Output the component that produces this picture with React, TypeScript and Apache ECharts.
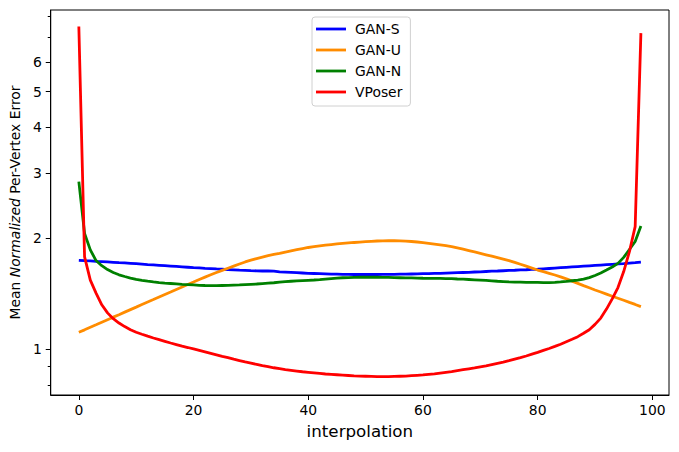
import React, { useEffect, useRef } from "react";
import * as echarts from "echarts";

const xValues: number[] = Array.from({ length: 99 }, (_, i) => i);

const ganS: number[] = [
  1.743, 1.739, 1.736, 1.732, 1.729, 1.725, 1.721, 1.717, 1.714, 1.710,
  1.706, 1.702, 1.697, 1.693, 1.689, 1.685, 1.681, 1.677, 1.673, 1.669,
  1.665, 1.662, 1.658, 1.655, 1.651, 1.648, 1.645, 1.642, 1.639, 1.637,
  1.634, 1.632, 1.630, 1.630, 1.629, 1.622, 1.619, 1.616, 1.613, 1.610,
  1.607, 1.605, 1.603, 1.601, 1.599, 1.598, 1.597, 1.596, 1.595, 1.595,
  1.595, 1.595, 1.595, 1.596, 1.596, 1.597, 1.598, 1.599, 1.600, 1.601,
  1.603, 1.604, 1.606, 1.607, 1.609, 1.611, 1.613, 1.615, 1.617, 1.620,
  1.622, 1.625, 1.628, 1.630, 1.633, 1.636, 1.638, 1.641, 1.643, 1.646,
  1.648, 1.652, 1.656, 1.660, 1.664, 1.668, 1.672, 1.676, 1.680, 1.684,
  1.688, 1.692, 1.696, 1.700, 1.704, 1.708, 1.713, 1.717, 1.722,
];

const ganU: number[] = [
  1.112, 1.129, 1.147, 1.165, 1.184, 1.203, 1.222, 1.241, 1.261, 1.281,
  1.301, 1.322, 1.343, 1.364, 1.386, 1.408, 1.430, 1.453, 1.476, 1.499,
  1.522, 1.546, 1.569, 1.592, 1.615, 1.637, 1.659, 1.681, 1.703, 1.725,
  1.745, 1.762, 1.778, 1.794, 1.808, 1.820, 1.835, 1.849, 1.863, 1.876,
  1.888, 1.897, 1.906, 1.915, 1.923, 1.930, 1.936, 1.942, 1.948, 1.953,
  1.958, 1.962, 1.966, 1.968, 1.969, 1.969, 1.967, 1.964, 1.960, 1.954,
  1.947, 1.938, 1.929, 1.919, 1.909, 1.898, 1.883, 1.868, 1.852, 1.836,
  1.820, 1.804, 1.788, 1.772, 1.756, 1.740, 1.720, 1.700, 1.680, 1.660,
  1.640, 1.624, 1.607, 1.590, 1.572, 1.552, 1.530, 1.509, 1.488, 1.468,
  1.448, 1.430, 1.411, 1.392, 1.375, 1.358, 1.340, 1.323, 1.305,
];

const ganN: number[] = [
  2.850, 2.060, 1.860, 1.740, 1.685, 1.645, 1.615, 1.592, 1.575, 1.560,
  1.547, 1.538, 1.530, 1.523, 1.517, 1.512, 1.508, 1.504, 1.500, 1.497,
  1.494, 1.491, 1.489, 1.488, 1.488, 1.489, 1.490, 1.492, 1.494, 1.497,
  1.500, 1.503, 1.507, 1.511, 1.515, 1.520, 1.525, 1.529, 1.532, 1.535,
  1.538, 1.541, 1.545, 1.550, 1.555, 1.560, 1.563, 1.565, 1.567, 1.568,
  1.568, 1.568, 1.568, 1.567, 1.566, 1.564, 1.563, 1.562, 1.561, 1.560,
  1.558, 1.557, 1.557, 1.556, 1.555, 1.554, 1.551, 1.549, 1.546, 1.543,
  1.540, 1.537, 1.533, 1.529, 1.526, 1.523, 1.521, 1.520, 1.519, 1.519,
  1.518, 1.517, 1.517, 1.519, 1.523, 1.528, 1.534, 1.540, 1.550, 1.564,
  1.585, 1.610, 1.640, 1.672, 1.710, 1.775, 1.865, 1.960, 2.160,
];

const vPoser: number[] = [
  7.500, 1.780, 1.540, 1.420, 1.320, 1.255, 1.210, 1.178, 1.152, 1.130,
  1.112, 1.098, 1.085, 1.073, 1.062, 1.051, 1.040, 1.030, 1.020, 1.011,
  1.002, 0.993, 0.984, 0.975, 0.966, 0.957, 0.949, 0.940, 0.932, 0.924,
  0.917, 0.910, 0.903, 0.897, 0.891, 0.886, 0.881, 0.877, 0.873, 0.869,
  0.866, 0.863, 0.860, 0.857, 0.855, 0.853, 0.851, 0.849, 0.847, 0.846,
  0.845, 0.844, 0.843, 0.843, 0.843, 0.844, 0.845, 0.846, 0.848, 0.850,
  0.852, 0.855, 0.858, 0.862, 0.866, 0.870, 0.875, 0.880, 0.885, 0.890,
  0.896, 0.902, 0.909, 0.916, 0.923, 0.931, 0.940, 0.949, 0.959, 0.970,
  0.981, 0.993, 1.005, 1.018, 1.032, 1.048, 1.064, 1.082, 1.105, 1.130,
  1.168, 1.215, 1.285, 1.370, 1.470, 1.625, 1.840, 2.150, 7.200,
];

const seriesNames: string[] = ["GAN-S", "GAN-U", "GAN-N", "VPoser"];
const seriesColors: string[] = ["#0000ff", "#ff8c00", "#008000", "#ff0000"];
const xTickValues: number[] = [0, 20, 40, 60, 80, 100];
const yMajorTicks: number[] = [1, 2, 3, 4, 5, 6];
const yMinorTicks: number[] = [0.8, 0.9, 7, 8];
const xRange: number[] = [-4.9, 102.9];
const yRange: number[] = [0.7516, 8.318];

const FONT = "DejaVu Sans";

export default function App() {
  const ref = useRef<HTMLDivElement>(null);
  useEffect(() => {
    if (!ref.current) return;
    const chart = echarts.init(ref.current, null, { renderer: "svg" });
    const lg = (v: number) => Math.log10(v);
    const allSeries = [ganS, ganU, ganN, vPoser];
    const yMin = lg(yRange[0]);
    const yMax = lg(yRange[1]);
    const baseY = {
      type: "value" as const,
      min: yMin,
      max: yMax,
      splitLine: { show: false },
    };
    chart.setOption({
      animation: false,
      backgroundColor: "#ffffff",
      grid: {
        left: 49,
        right: 10,
        top: 10,
        bottom: 57,
        show: true,
        borderColor: "#000",
        borderWidth: 1,
        backgroundColor: "transparent",
      },
      legend: {
        orient: "vertical",
        left: 312,
        top: 17,
        icon: "rect",
        itemWidth: 30,
        itemHeight: 2.8,
        itemGap: 7,
        padding: [5, 8, 7, 4],
        borderColor: "#d0d0d0",
        borderWidth: 1,
        borderRadius: 3,
        backgroundColor: "rgba(255,255,255,0.8)",
        textStyle: {
          fontFamily: FONT,
          fontSize: 13.9,
          lineHeight: 14,
          color: "#000",
          padding: [0, 0, 0, 4],
        },
        data: seriesNames,
      },
      xAxis: {
        type: "value",
        min: xRange[0],
        max: xRange[1],
        name: "interpolation",
        nameLocation: "middle",
        nameGap: 27,
        nameTextStyle: { fontFamily: FONT, fontSize: 16.7, color: "#000" },
        axisLine: { show: true, onZero: false, lineStyle: { color: "#000", width: 1 } },
        axisTick: { show: true, length: 5, customValues: xTickValues, lineStyle: { color: "#000" } },
        axisLabel: {
          customValues: xTickValues,
          margin: 8,
          fontFamily: FONT,
          fontSize: 13.9,
          color: "#000",
        },
        splitLine: { show: false },
      },
      yAxis: [
        {
          ...baseY,
          name: "Mean {i|Normalized} Per-Vertex Error",
          nameLocation: "middle",
          nameGap: 23,
          nameRotate: 90,
          nameTextStyle: {
            fontFamily: FONT,
            fontSize: 13.9,
            color: "#000",
            rich: {
              i: { fontFamily: FONT, fontSize: 13.9, fontStyle: "italic", color: "#000" },
            },
          },
          axisLine: { show: true, onZero: false, lineStyle: { color: "#000", width: 1 } },
          axisTick: {
            show: true,
            length: 5,
            customValues: yMajorTicks.map(lg),
            lineStyle: { color: "#000" },
          },
          axisLabel: {
            customValues: yMajorTicks.map(lg),
            formatter: (v: number) => String(Math.round(Math.pow(10, v))),
            margin: 9,
            fontFamily: FONT,
            fontSize: 13.9,
            color: "#000",
          },
        },
        {
          ...baseY,
          position: "left",
          offset: 0,
          axisLine: { show: false, onZero: false },
          axisLabel: { show: false },
          axisTick: {
            show: true,
            length: 3,
            customValues: yMinorTicks.map(lg),
            lineStyle: { color: "#000" },
          },
        },
      ],
      series: allSeries.map((vals, idx) => ({
        name: seriesNames[idx],
        type: "line",
        yAxisIndex: 0,
        symbol: "none",
        showSymbol: false,
        lineStyle: { color: seriesColors[idx], width: 2.8 },
        itemStyle: { color: seriesColors[idx] },
        data: vals.map((v, i) => [xValues[i], lg(v)]),
        z: 2 + idx,
      })),
    });
    return () => chart.dispose();
  }, []);
  return (
    <div
      ref={ref}
      style={{ position: "absolute", left: 0, top: 0, width: 679, height: 452 }}
    />
  );
}
